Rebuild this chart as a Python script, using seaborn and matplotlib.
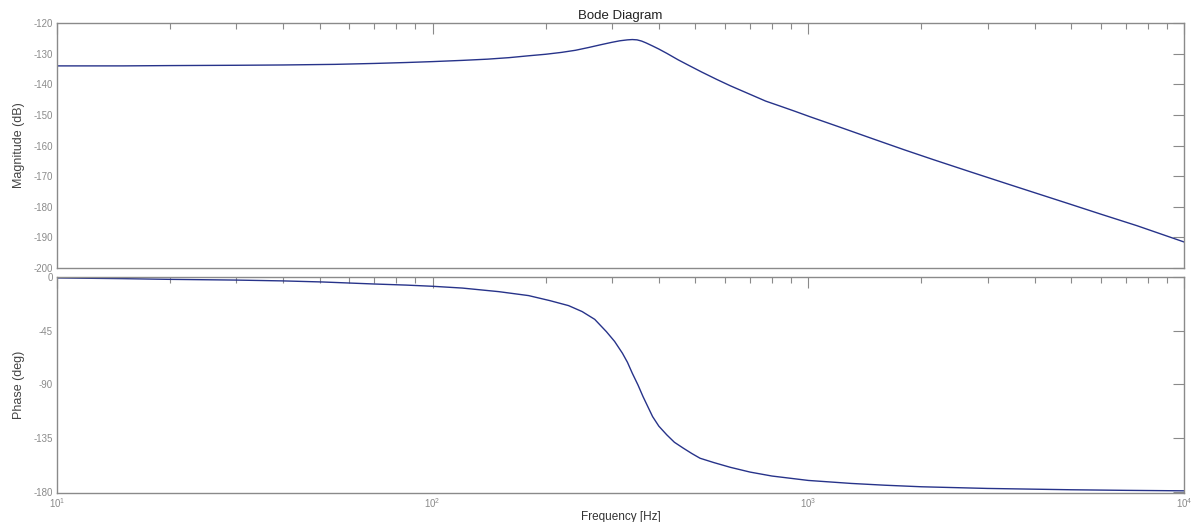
import numpy as np
import pandas as pd
import matplotlib
matplotlib.use("Agg")
import matplotlib.pyplot as plt
from matplotlib.ticker import LogLocator, LogFormatterMathtext, NullFormatter, FixedLocator
import seaborn as sns

# Magnitude response samples (frequency in Hz, magnitude in dB)
mag_freq = [10, 15, 20, 30, 40, 55, 70, 85, 100, 120, 140, 160, 180, 200, 220, 240,
            260, 280, 300, 315, 330, 340, 350, 360, 370, 385, 400, 420, 450, 480,
            520, 570, 620, 700, 770, 840, 920, 1010, 1200, 1500, 1800, 2150, 2700,
            3400, 4000, 4875, 6000, 7500, 10000]
mag_db = [-134.0, -134.0, -133.9, -133.8, -133.7, -133.5, -133.2, -132.9, -132.6,
          -132.2, -131.8, -131.3, -130.7, -130.2, -129.6, -128.9, -128.0, -127.1,
          -126.3, -125.8, -125.5, -125.4, -125.5, -125.9, -126.5, -127.5, -128.5,
          -129.9, -132.0, -133.8, -136.0, -138.4, -140.5, -143.3, -145.5, -147.1,
          -148.8, -150.6, -153.8, -158.0, -161.4, -164.6, -168.6, -172.6, -175.4,
          -178.8, -182.4, -186.2, -191.5]

# Phase response samples (frequency in Hz, phase in degrees)
ph_freq = [10, 15, 20, 30, 40, 51, 70, 85, 100, 120, 150, 180, 205, 230, 250, 270,
           290, 305, 320, 330, 340, 352, 363, 375, 385, 400, 420, 440, 465, 490,
           515, 560, 620, 700, 800, 1000, 1300, 1600, 2000, 3000, 5000, 7000, 10000]
ph_deg = [-0.8, -1.4, -2.0, -2.6, -3.3, -4.2, -5.9, -6.8, -7.8, -9.3, -12.3, -15.6,
          -19.8, -24.0, -29.0, -35.5, -45.8, -54.0, -63.9, -71.5, -80.7, -90.5,
          -100.2, -109.5, -117.0, -125.0, -132.3, -138.5, -143.5, -148.0, -151.9,
          -155.5, -159.5, -163.5, -166.8, -170.5, -173.0, -174.5, -175.8, -177.2,
          -178.3, -178.8, -179.2]

mag_ticks = [-200, -190, -180, -170, -160, -150, -140, -130, -120]
ph_ticks = [-180, -135, -90, -45, 0]

mag_df = pd.DataFrame({"freq": mag_freq, "mag": mag_db})
ph_df = pd.DataFrame({"freq": ph_freq, "phase": ph_deg})

sns.set_theme(style="white")
plt.rcParams["font.family"] = ["Liberation Sans", "DejaVu Sans"]
plt.rcParams["mathtext.fontset"] = "custom"
plt.rcParams["mathtext.rm"] = "Liberation Sans"
plt.rcParams["axes.unicode_minus"] = False

line_color = "#27338a"
frame_color = "#8a8a8a"
tick_label_color = "#8a8a8a"

fig = plt.figure(figsize=(11.92, 5.22), dpi=100)
ax_mag = fig.add_axes([0.0478, 0.4866, 0.9455, 0.4693])
ax_ph = fig.add_axes([0.0478, 0.0556, 0.9455, 0.4138])

sns.lineplot(data=mag_df, x="freq", y="mag", ax=ax_mag, color=line_color,
             linewidth=1.0, estimator=None, sort=True)
sns.lineplot(data=ph_df, x="freq", y="phase", ax=ax_ph, color=line_color,
             linewidth=1.0, estimator=None, sort=True)

for ax in (ax_mag, ax_ph):
    ax.set_xscale("log")
    ax.set_xlim(10, 10000)
    ax.xaxis.set_major_locator(LogLocator(base=10, numticks=10))
    ax.xaxis.set_minor_locator(LogLocator(base=10, subs=np.arange(2, 10), numticks=20))
    ax.xaxis.set_minor_formatter(NullFormatter())
    for s in ax.spines.values():
        s.set_color(frame_color)
        s.set_linewidth(1.0)
    ax.tick_params(which="major", direction="in", length=8, width=0.8,
                   color=frame_color, top=True, right=True,
                   labelsize=7, labelcolor=tick_label_color, pad=3)
    ax.tick_params(which="minor", direction="in", length=4, width=0.8,
                   color=frame_color, top=True, right=True)
    ax.tick_params(axis="y", which="minor", left=False, right=False)
    ax.tick_params(axis="x", which="major", pad=2)
    ax.set_xlabel("")
    ax.grid(False)

ax_mag.set_ylim(-200, -120)
ax_mag.yaxis.set_major_locator(FixedLocator(mag_ticks))
ax_mag.xaxis.set_major_formatter(NullFormatter())
ax_mag.set_ylabel("Magnitude (dB)", fontsize=9, color="#444444", labelpad=6)
ax_mag.set_title("Bode Diagram", fontsize=9.5, color="#222222", pad=3)

ax_ph.set_ylim(-181, 0)
ax_ph.yaxis.set_major_locator(FixedLocator(ph_ticks))
ax_ph.xaxis.set_major_formatter(LogFormatterMathtext())
ax_ph.set_ylabel("Phase (deg)", fontsize=9, color="#444444", labelpad=6)
ax_ph.set_xlabel("Frequency [Hz]", fontsize=8.5, color="#333333", labelpad=1)

fig.savefig("out.png", dpi=100, facecolor="white")
